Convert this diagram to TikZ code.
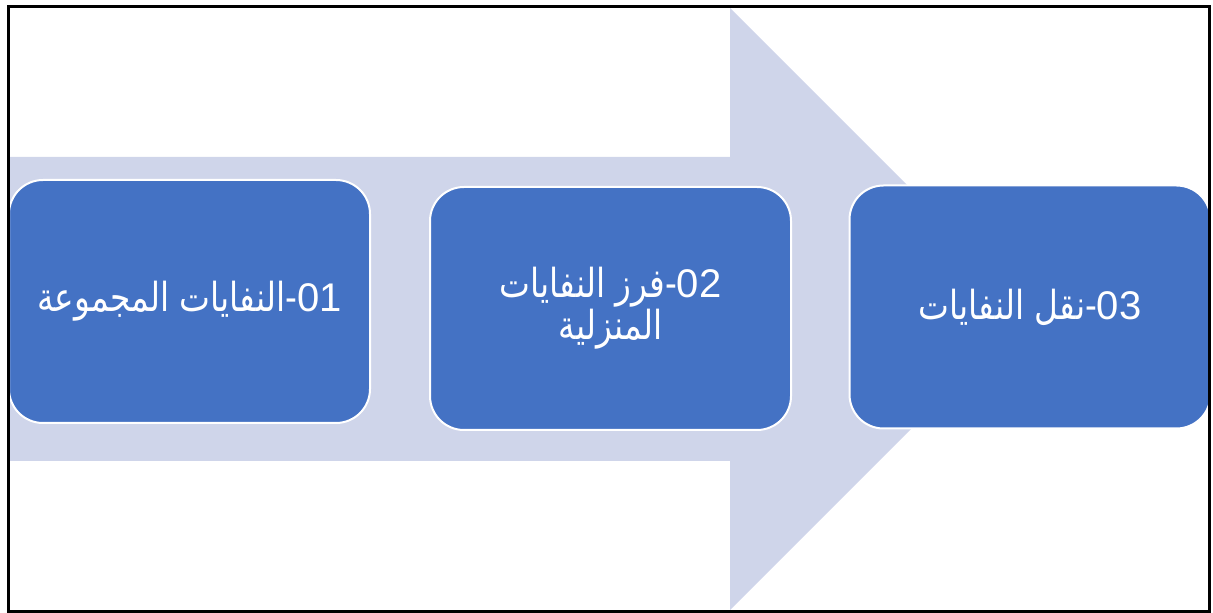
\documentclass[tikz,border=0pt]{standalone}
\usepackage{fontspec}
\usepackage{xcolor}
\setmainfont{Liberation Sans}
\newfontfamily\arabicfont[Script=Arabic, FakeStretch=0.82]{DejaVu Sans}
\TeXXeTstate=1
\usetikzlibrary{positioning}

\definecolor{arrowfill}{HTML}{CFD5EA}
\definecolor{stageblue}{HTML}{4472C4}

\begin{document}
\begin{tikzpicture}[
  x=0.5pt, y=-0.5pt,
  stage/.style={rectangle, rounded corners=17pt, draw=white, line width=1pt,
    fill=stageblue, text=white, minimum width=180.5pt, minimum height=121.5pt,
    inner sep=0pt, align=center, font=\fontsize{20}{17}\selectfont\arabicfont},
  frame/.style={draw=black, line width=1.6pt}
]
\useasboundingbox (0,0) rectangle (1213,613);

% big arrow behind the stages
\fill[arrowfill] (10,157) -- (730,157) -- (730,8) -- (1031,309)
  -- (730,610) -- (730,461) -- (10,461) -- cycle;

\node[stage] (s1) at (189.5,301.5)
  {\beginR\beginL{\rmfamily 01}\endL-النفايات المجموعة\endR};
\node[stage] (s2) at (610.5,308.5)
  {\beginR\beginL{\rmfamily 02}\endL-فرز النفايات\endR\\\beginR المنزلية\endR};
\node[stage] (s3) at (1030,307)
  {\beginR\beginL{\rmfamily 03}\endL-نقل النفايات\endR};

\draw[frame] (8.3,6.5) rectangle (1209.5,611.5);
\end{tikzpicture}
\end{document}
